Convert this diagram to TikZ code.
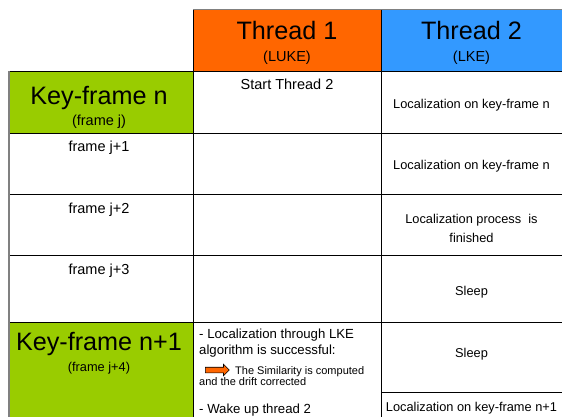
\documentclass[tikz,border=0pt]{standalone}
\usepackage{fontspec}
\setmainfont{Liberation Sans}
\usetikzlibrary{positioning, shapes.arrows}
\definecolor{lukeorange}{RGB}{255,102,0}
\definecolor{lkeblue}{RGB}{51,153,255}
\definecolor{kfgreen}{RGB}{153,204,0}
\definecolor{rimgray}{RGB}{128,128,128}
\tikzstyle{cell}=[%
      rectangle, draw=black, line width=0.8pt, fill=white,
      inner sep=0pt, outer sep=0pt
]
\tikzstyle{kfcell}=[cell, fill=kfgreen, minimum width=184pt]
\tikzstyle{frcell}=[cell, minimum width=184pt]
\tikzstyle{lukecell}=[cell, minimum width=188pt]
\tikzstyle{lkecell}=[cell, minimum width=182pt]
\tikzstyle{txtbig}=[inner sep=0pt, anchor=base, font=\fontsize{25.2}{28}\selectfont]
\tikzstyle{txtmid}=[inner sep=0pt, anchor=base, font=\fontsize{14.5}{17}\selectfont]
\tikzstyle{txtsm}=[inner sep=0pt, anchor=base, font=\fontsize{12.8}{15}\selectfont]
\tikzstyle{txtitem}=[inner sep=0pt, anchor=base west, font=\fontsize{13.2}{16}\selectfont]
\tikzstyle{txtnote}=[inner sep=0pt, anchor=base west, font=\fontsize{11}{13}\selectfont]
\tikzstyle{rim}=[draw=rimgray, line width=2pt]

\begin{document}
\begin{tikzpicture}[x=1pt, y=-1pt]
    \useasboundingbox (0,0) rectangle (562,416);

    % header
    \node[lukecell, fill=lukeorange, minimum height=62pt, anchor=north west] (t1) at (193,9) {};
    \node[lkecell, fill=lkeblue, minimum height=62pt] (t2) [right=0pt of t1] {};

    % frames column
    \node[kfcell, minimum height=62pt] (kfn)  [below left=0pt of t1.south west] {};
    \node[frcell, minimum height=61pt] (fr1)  [below=0pt of kfn] {};
    \node[frcell, minimum height=61pt] (fr2)  [below=0pt of fr1] {};
    \node[frcell, minimum height=67pt] (fr3)  [below=0pt of fr2] {};
    \node[kfcell, minimum height=97pt] (kfn1) [below=0pt of fr3] {};

    % thread 1 column
    \node[lukecell, minimum height=62pt] (a0) [below=0pt of t1] {};
    \node[lukecell, minimum height=61pt] (a1) [below=0pt of a0] {};
    \node[lukecell, minimum height=61pt] (a2) [below=0pt of a1] {};
    \node[lukecell, minimum height=67pt] (a3) [below=0pt of a2] {};
    \node[lukecell, minimum height=97pt] (a4) [below=0pt of a3] {};

    % thread 2 column
    \node[lkecell, minimum height=62pt] (b0) [below=0pt of t2] {};
    \node[lkecell, minimum height=61pt] (b1) [below=0pt of b0] {};
    \node[lkecell, minimum height=61pt] (b2) [below=0pt of b1] {};
    \node[lkecell, minimum height=67pt] (b3) [below=0pt of b2] {};
    \node[lkecell, minimum height=70pt] (b4) [below=0pt of b3] {};
    \node[lkecell, minimum height=30pt] (b5) [below=0pt of b4] {};

    \draw[rim] (kfn.north west) -- (kfn1.south west);
    \draw[draw=rimgray, line width=0.8pt] (t1.north west) -- (t2.north east);

    % texts
    \node[txtbig] (t1name) at (287,39) {Thread 1};
    \node[txtmid] (t1sub)  at (287,61) {(LUKE)};
    \node[txtbig] (t2name) at (471.5,39) {Thread 2};
    \node[txtmid] (t2sub)  at (471.5,61) {(LKE)};

    \node[txtbig] (kfnname)  at (99,104) {Key-frame n};
    \node[txtmid] (kfnsub)   at (99,125) {(frame j)};
    \node[txtmid] (fr1name)  at (99,151) {frame j+1};
    \node[txtmid] (fr2name)  at (99,213) {frame j+2};
    \node[txtmid] (fr3name)  at (99,274) {frame j+3};
    \node[txtbig] (kfn1name) at (99,350) {Key-frame n+1};
    \node[txtsm]  (kfn1sub)  at (99,371) {(frame j+4)};

    \node[txtmid] (a0txt) at (287,89) {Start Thread 2};
    \node[txtitem] (a4l1) at (199,338) {- Localization through LKE};
    \node[txtitem] (a4l2) at (199,354) {algorithm is successful:};
    \node[single arrow, draw=black, fill=lukeorange, line width=0.6pt,
          text height=2.5pt, text depth=2.5pt, text width=0pt,
          minimum height=24pt, single arrow head extend=3pt,
          inner sep=0pt, anchor=west] (simarrow) at (205,370) {};
    \node[txtnote] (a4l3) at (235,374) {The Similarity is computed};
    \node[txtnote] (a4l4) at (199,385) {and the drift corrected};
    \node[txtitem] (a4l5) at (199,413) {- Wake up thread 2};

    \node[txtsm] (b0txt)  at (471.5,108) {Localization on key-frame n};
    \node[txtsm] (b1txt)  at (471.5,169) {Localization on key-frame n};
    \node[txtsm] (b2txt)  at (471.5,223) {Localization process\ \ is};
    \node[txtsm] (b2txtb) at (471.5,242) {finished};
    \node[txtsm] (b3txt)  at (471.5,295) {Sleep};
    \node[txtsm] (b4txt)  at (471.5,357) {Sleep};
    \node[txtsm] (b5txt)  at (471.5,411) {Localization on key-frame n+1};
\end{tikzpicture}
\end{document}
